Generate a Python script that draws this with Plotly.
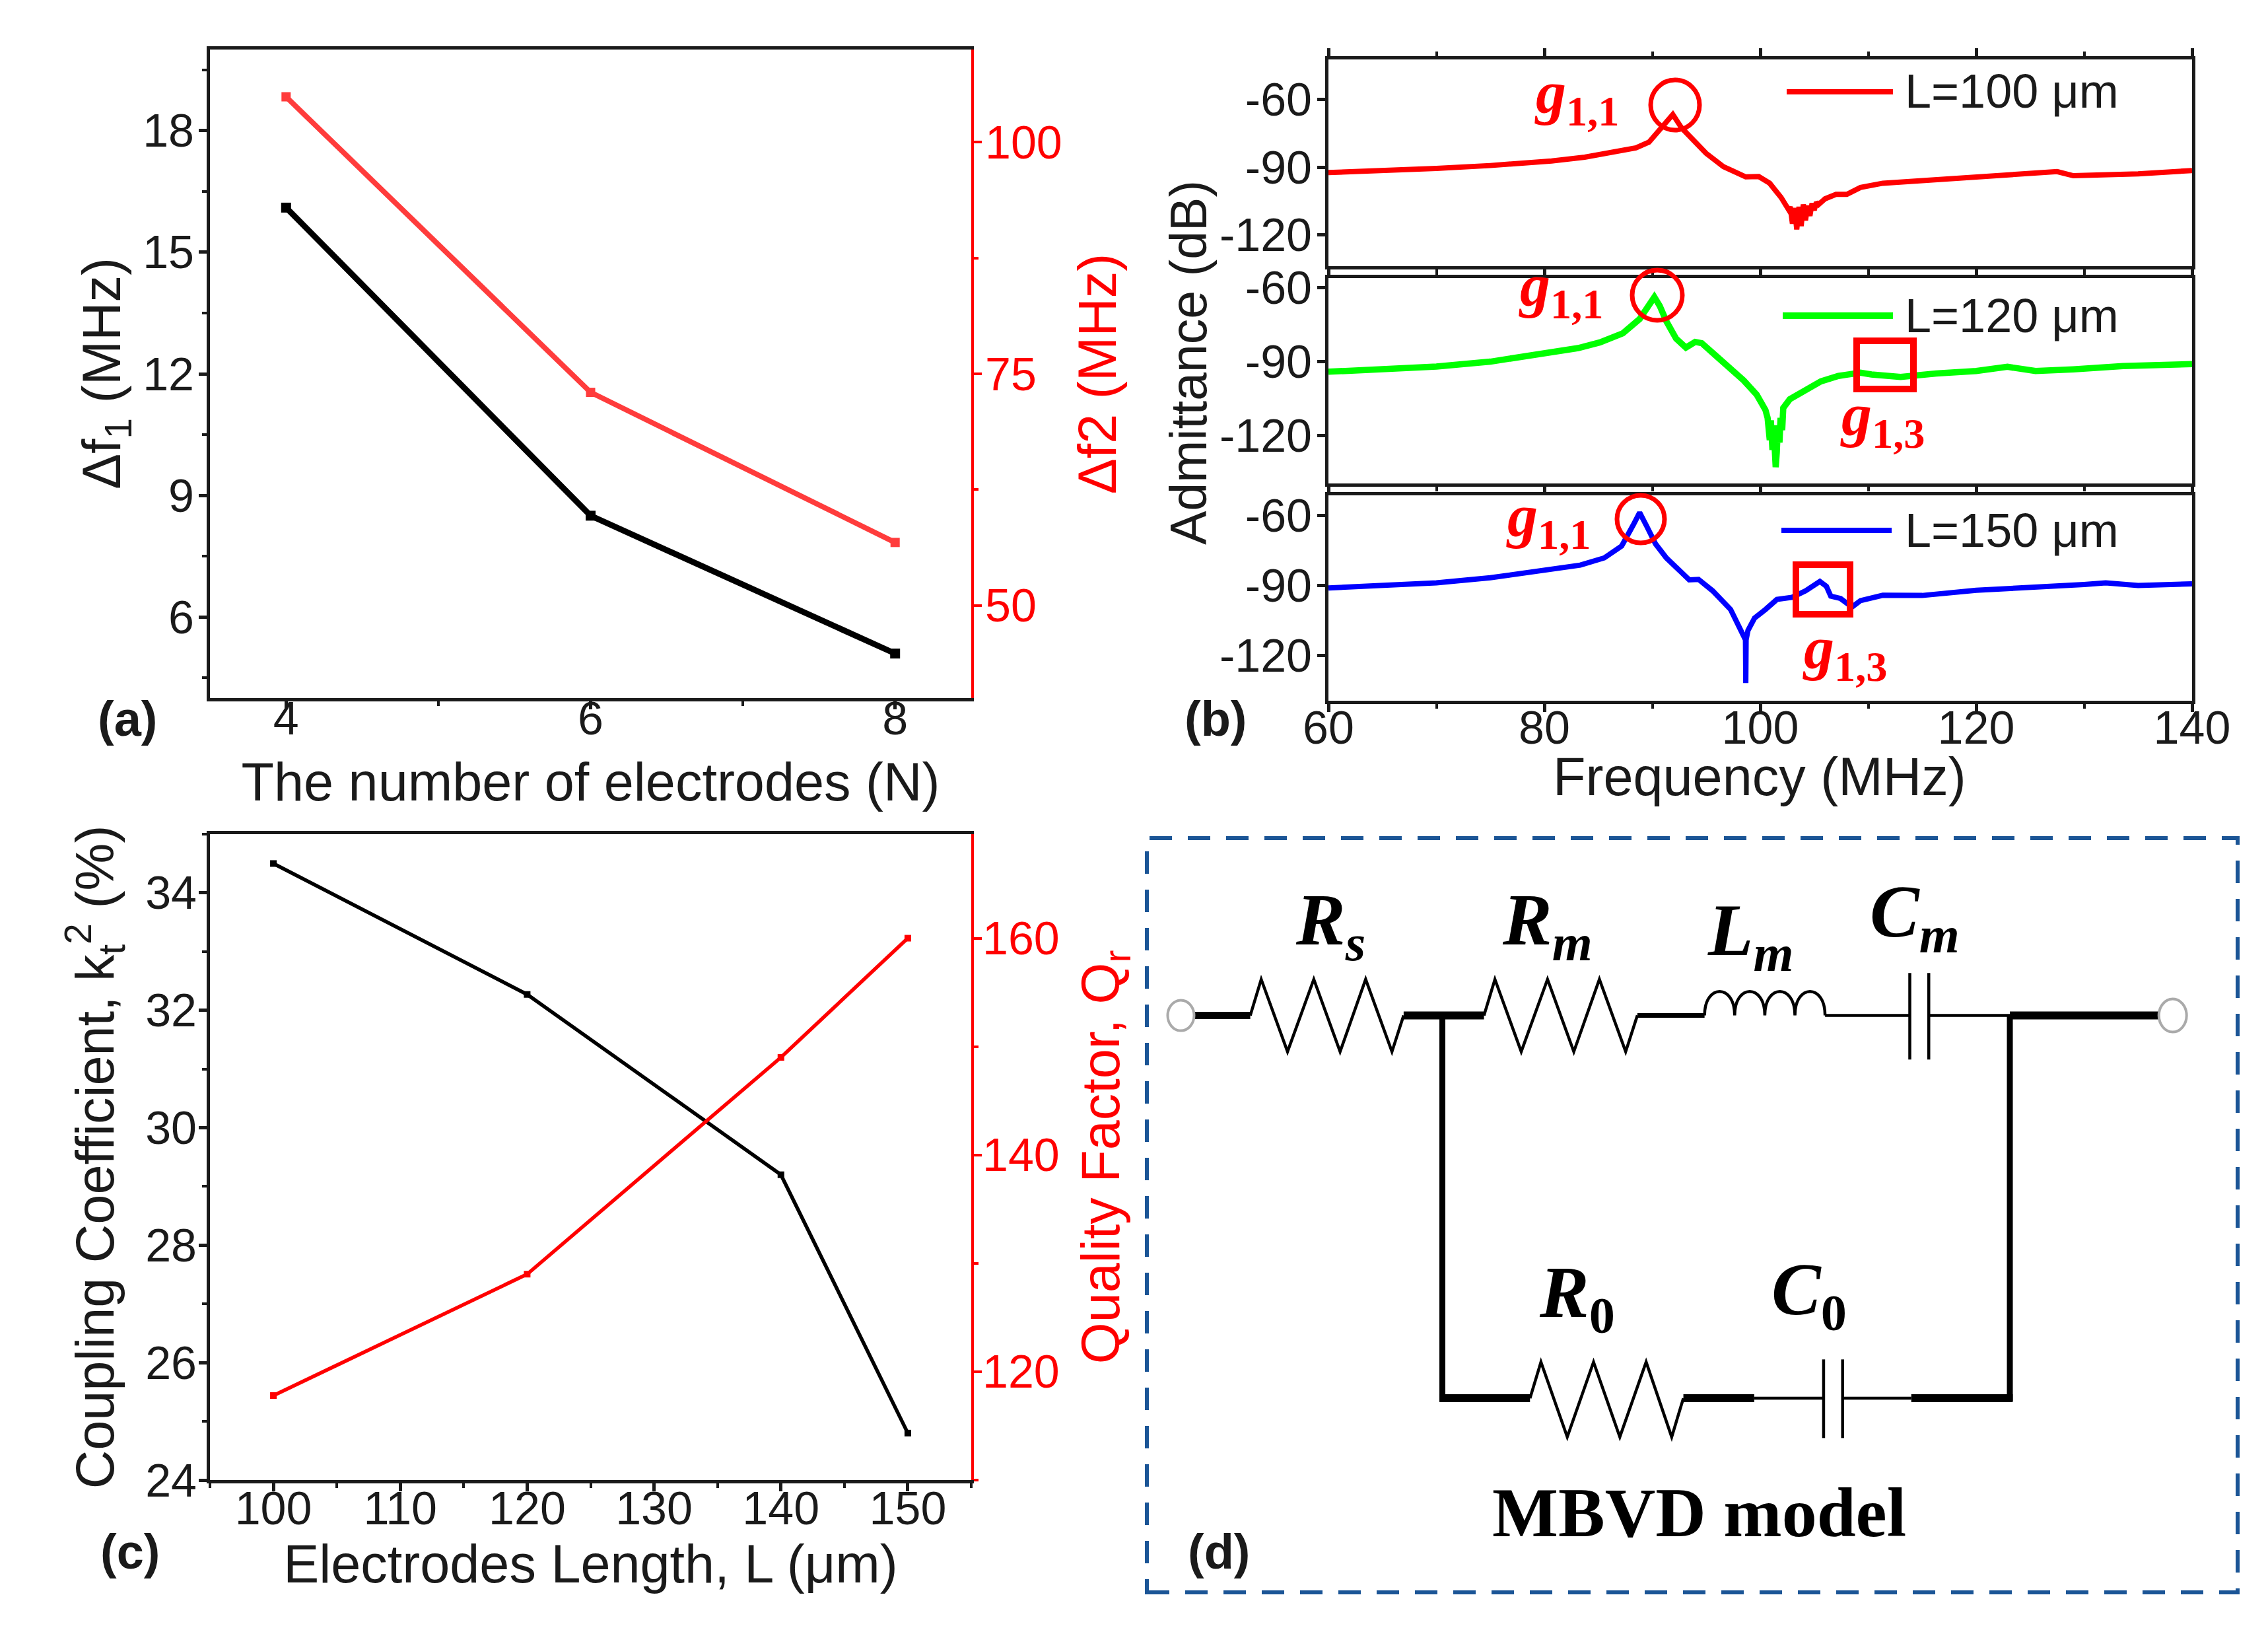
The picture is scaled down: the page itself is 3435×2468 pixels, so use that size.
import plotly.graph_objects as go

W, H = 3435, 2468

# ---------- data ----------
n_electrodes = [4, 6, 8]
delta_f1 = [16.1, 8.5, 5.1]
delta_f2 = [104.9, 73.0, 56.8]

length_um = [100, 120, 140, 150]
k2_pct = [34.5, 32.27, 29.2, 24.8]
q_factor = [117.8, 129, 149, 160]

f_100 = [60, 65, 70, 75, 80.67, 83.74, 85.76, 88.48, 89.69, 90.9, 91.9, 92.71, 93.72, 94.98, 96.59, 98.65, 99.86, 100.87,
         101.93, 102.63, 102.78, 102.98, 103.18, 103.38, 103.59, 103.79, 103.99, 104.19, 104.39, 104.6, 104.8, 105, 105.2,
         105.4, 106, 107.02, 108.02, 109.28, 111.35, 115, 120, 125, 127.5, 129, 135, 140]
y_100 = [-92.4, -91.6, -90.6, -89.3, -87.3, -85.6, -83.9, -81.5, -79, -72.7, -66.8, -72.7, -77.6, -83.9, -89.8, -94.3, -94.15, -97.1,
         -103.4, -108.8, -107.5, -115, -108, -117.5, -107.5, -116, -106.5, -113.5, -107, -111.5, -106, -109, -105.5,
         -106.5, -104, -102, -102, -99, -97.1, -96, -94.2, -93, -92, -93.8, -93, -91.5]

f_120 = [60, 65, 70, 75, 80.67, 83.13, 85.15, 87.27, 88.83, 89.69, 90.19, 90.69, 91.3, 92.21, 93.11, 93.97, 94.58, 95.84, 97.05, 98.46,
         99.67, 100.48, 100.68, 100.88, 100.98, 101.13, 101.23, 101.33, 101.43, 101.53, 101.63, 101.78, 101.88, 102.03, 102.13,
         102.74, 103.8, 105.62, 107.24, 109.28, 110.3, 113, 116.3, 120, 122.9, 125.5, 129, 133.6, 140]
y_120 = [-94, -92.9, -91.9, -89.9, -86.2, -84.4, -82.1, -78.4, -72.6, -66.4, -63.7, -67.3, -73.5, -80.6, -84.2, -81.9, -82.4, -87.3, -92.2, -97.5,
         -103.3, -109.5, -112.7, -121.7, -113.7, -125.7, -115.7, -128.7, -132.7, -126.7, -115.7, -122.7, -112.7, -117.7, -108.7,
         -105.1, -102.4, -97.9, -95.7, -94.4, -95.1, -96.1, -94.7, -93.7, -92, -93.7, -93, -91.7, -90.9]

f_150 = [60, 65, 70, 75, 80.67, 83.33, 85.55, 87.16, 88.22, 88.83, 89.49, 90.3, 91.3, 92.51, 93.42, 94.28, 95.59, 97.25, 98.06, 98.36,
         98.63, 98.66, 98.69, 98.86, 99.07, 99.47, 100.48, 101.54, 102.95, 104.2, 105.52, 106.13, 106.53, 107.44, 108.49, 109.29,
         111.35, 115, 120, 125, 130, 132, 135, 140]
y_150 = [-91.2, -90.1, -89, -86.8, -83.5, -81.4, -78.3, -73.2, -64.3, -58.9, -64.8, -72.3, -78.3, -84, -87.7, -87.5, -92.4, -100.4, -108.3, -112,
         -113.4, -131.9, -113.4, -109.4, -107.4, -104.1, -100.4, -96.1, -95.2, -92.4, -88.4, -90.5, -94.7, -95.7, -99.4, -96.6,
         -94.3, -94.4, -92.2, -91.2, -89.7, -89, -90.1, -89.4]

RED, GREEN, BLUE = "#ff0000", "#00ff00", "#0000ff"
SANS, SERIF = "Liberation Sans", "Liberation Serif"
INK = "#1a1a1a"


def px(x):
    return x / W


def py(y):
    return 1 - y / H


def axis(rng, **kw):
    base = dict(range=rng, showgrid=False, zeroline=False, showline=True, linewidth=5, linecolor=INK,
                automargin=False, ticks="outside", ticklen=12, tickwidth=5, tickcolor=INK,
                tickfont=dict(family=SANS, size=70, color=INK))
    base.update(kw)
    return base


def minor(dt, t0, color=INK):
    return dict(ticks="outside", dtick=dt, tick0=t0, ticklen=7, tickwidth=4, tickcolor=color)


def red_axis(rng, dt, t0, mdt, dom, anchor, over, title=None, lab=0, standoff=18):
    d = dict(range=rng, domain=dom, anchor=anchor, overlaying=over, side="right", showgrid=False, zeroline=False,
             automargin=False, showline=True, linewidth=4, linecolor=RED, ticks="outside", ticklen=12, tickwidth=4,
             tickcolor=RED, tickfont=dict(family=SANS, size=70, color=RED), dtick=dt, tick0=t0,
             minor=minor(mdt, t0, RED), ticklabelstandoff=lab)
    if title:
        d["title"] = dict(text=title, standoff=standoff, font=dict(family=SANS, size=81, color=RED))
    return d


def title(text, standoff):
    return dict(text=text, standoff=standoff, font=dict(family=SANS, size=81, color=INK))


fig = go.Figure()

# panel (a)
fig.add_trace(go.Scatter(x=n_electrodes, y=delta_f1, xaxis="x", yaxis="y", mode="lines+markers", name="Δf1",
                         line=dict(color="#000000", width=9), marker=dict(symbol="square", size=15, color="#000000")))
fig.add_trace(go.Scatter(x=n_electrodes, y=delta_f2, xaxis="x", yaxis="y2", mode="lines+markers", name="Δf2",
                         line=dict(color="#ff3c3c", width=8), marker=dict(symbol="square", size=14, color="#ff3c3c")))
# panel (c)
fig.add_trace(go.Scatter(x=length_um, y=k2_pct, xaxis="x2", yaxis="y3", mode="lines+markers", name="k2",
                         line=dict(color="#000000", width=5.5), marker=dict(symbol="square", size=10, color="#000000")))
fig.add_trace(go.Scatter(x=length_um, y=q_factor, xaxis="x2", yaxis="y4", mode="lines+markers", name="Qr",
                         line=dict(color=RED, width=5.5), marker=dict(symbol="square", size=10, color=RED)))
# panel (b)
fig.add_trace(go.Scatter(x=f_100, y=y_100, xaxis="x3", yaxis="y5", mode="lines", name="L=100 μm",
                         line=dict(color=RED, width=8)))
fig.add_trace(go.Scatter(x=f_120, y=y_120, xaxis="x4", yaxis="y6", mode="lines", name="L=120 μm",
                         line=dict(color=GREEN, width=9.5)))
fig.add_trace(go.Scatter(x=f_150, y=y_150, xaxis="x5", yaxis="y7", mode="lines", name="L=150 μm",
                         line=dict(color=BLUE, width=8)))

A_X, A_Y = [px(318), px(1471)], [py(1057), py(75)]
C_X, C_Y = [px(318), px(1471)], [py(2241), py(1263)]
B_X = [px(2012), px(3320)]
B1_Y, B2_Y, B3_Y = [py(403), py(90)], [py(732), py(421)], [py(1061), py(750)]

layout = dict(
    width=W, height=H, margin=dict(l=0, r=0, t=0, b=0), paper_bgcolor="white", plot_bgcolor="white",
    showlegend=False, font=dict(family=SANS, color=INK),
    xaxis=axis([3.5, 8.5], domain=A_X, anchor="y", mirror=True, dtick=2, tick0=4, minor=minor(1, 4),
               ticklabelstandoff=-46, title=title("The number of electrodes (N)", 31)),
    yaxis=axis([4, 20], domain=A_Y, anchor="x", dtick=3, tick0=6, minor=minor(1.5, 6), ticklabelstandoff=-7),
    yaxis2=red_axis([40, 110], 25, 50, 12.5, A_Y, "x", "y", "Δf2 (MHz)", -9, 27),
    xaxis2=axis([95, 155], domain=C_X, anchor="y3", mirror=True, dtick=10, tick0=100, minor=minor(5, 100),
                ticklabelstandoff=-34, title=title("Electrodes Length, L (μm)", 14)),
    yaxis3=axis([24, 35], domain=C_Y, anchor="x2", dtick=2, tick0=24, minor=minor(1, 24), ticklabelstandoff=-11,
                title=title("Coupling Coefficient, k<sub>t</sub><sup>2</sup> (%)", 22)),
    yaxis4=red_axis([110, 169.6], 20, 120, 10, C_Y, "x2", "y3", "Quality Factor, Q<sub>r</sub>", -13, 36),
    xaxis3=axis([60, 140], domain=B_X, anchor="y5", mirror="allticks", dtick=20, tick0=60, minor=minor(10, 60),
                showticklabels=False),
    xaxis4=axis([60, 140], domain=B_X, anchor="y6", mirror="allticks", dtick=20, tick0=60, minor=minor(10, 60),
                showticklabels=False),
    xaxis5=axis([60, 140], domain=B_X, anchor="y7", mirror=True, dtick=20, tick0=60, minor=minor(10, 60),
                ticklabelstandoff=-36),
    yaxis5=axis([-133.7, -42.5], domain=B1_Y, anchor="x3", mirror=True, tickvals=[-60, -90, -120],
                ticktext=["-60", "-90", "-120"], ticklabelstandoff=-6),
    yaxis6=axis([-139.3, -56], domain=B2_Y, anchor="x4", mirror=True, tickvals=[-60, -90, -120],
                ticktext=["-60", "-90", "-120"], ticklabelstandoff=-6),
    yaxis7=axis([-139.5, -51.5], domain=B3_Y, anchor="x5", mirror=True, tickvals=[-60, -90, -120],
                ticktext=["-60", "-90", "-120"], ticklabelstandoff=-6),
)

shapes, annos = [], []


def line(x0, y0, x1, y1, w, color="black", dash=None):
    ln = dict(color=color, width=w)
    if dash:
        ln["dash"] = dash
    shapes.append(dict(type="line", xref="paper", yref="paper", x0=px(x0), y0=py(y0), x1=px(x1), y1=py(y1), line=ln))


def ellipse(cx, cy, rx, ry, w, color, fill="rgba(0,0,0,0)"):
    shapes.append(dict(type="circle", xref="paper", yref="paper", x0=px(cx - rx), x1=px(cx + rx), y0=py(cy + ry),
                       y1=py(cy - ry), line=dict(color=color, width=w), fillcolor=fill))


def rect(x0, y0, x1, y1, w, color):
    shapes.append(dict(type="rect", xref="paper", yref="paper", x0=px(x0), x1=px(x1), y0=py(y1), y1=py(y0),
                       line=dict(color=color, width=w)))


def text(x, y, s, size, color=INK, family=SANS, angle=0):
    annos.append(dict(xref="paper", yref="paper", x=px(x), y=py(y), text=s, showarrow=False, xanchor="center",
                      yanchor="middle", textangle=angle, font=dict(size=size, color=color, family=family)))


# overlays on panel (b)
ellipse(2537, 159, 37, 38, 7, RED)
ellipse(2510, 447, 38, 38, 7, RED)
ellipse(2485, 786, 36, 36, 7, RED)
rect(2812, 516, 2898, 589, 10, RED)
rect(2720, 855, 2802, 930, 10, RED)
line(2706, 139, 2867, 139, 8, RED)
line(2700, 478, 2867, 478, 10, GREEN)
line(2698, 803, 2865, 803, 8, BLUE)
for yy, s in [(138, "L=100 μm"), (478, "L=120 μm"), (803, "L=150 μm")]:
    annos.append(dict(xref="paper", yref="paper", x=px(2883), y=py(yy), text=s, showarrow=False, xanchor="left",
                      yanchor="middle", font=dict(size=72, color=INK, family=SANS)))
for x, y, s in [(2388, 146, "1,1"), (2364, 438, "1,1"), (2345, 787, "1,1"), (2851, 635, "1,3"), (2794, 987, "1,3")]:
    text(x, y, f"<b><i>g</i><sub>{s}</sub></b>", 92, RED, SERIF)

text(160, 566, "Δf<sub>1</sub> (MHz)", 81, INK, SANS, -90)
text(1800, 549, "Admittance (dB)", 77, INK, SANS, -90)
text(2665, 1176, "Frequency (MHz)", 81, INK, SANS)

text(193, 1089, "<b>(a)</b>", 74)
text(1842, 1089, "<b>(b)</b>", 74)
text(197, 2349, "<b>(c)</b>", 74)
text(1846, 2349, "<b>(d)</b>", 74)

# panel (d): equivalent circuit
DX, DY = 0.904, 1.277


def cx(z):
    return 1700 + z / DX


def cy(z):
    return 1240 + z / DY


def wire(x0, y0, x1, y1, w):
    line(cx(x0), cy(y0), cx(x1), cy(y1), w, "black")


def poly(points, w):
    d = "M " + " L ".join(f"{px(cx(a)):.5f},{py(cy(b)):.5f}" for a, b in points)
    shapes.append(dict(type="path", xref="paper", yref="paper", path=d, line=dict(color="black", width=w)))


def coil(x0, x1, y, top, n, w):
    step = (x1 - x0) / n
    d = f"M {px(cx(x0)):.5f},{py(cy(y)):.5f}"
    for i in range(n):
        a, b = x0 + i * step, x0 + (i + 1) * step
        d += (f" C {px(cx(a)):.5f},{py(cy(top)):.5f} {px(cx(b)):.5f},{py(cy(top)):.5f}"
              f" {px(cx(b)):.5f},{py(cy(y)):.5f}")
    shapes.append(dict(type="path", xref="paper", yref="paper", path=d, line=dict(color="black", width=w)))


shapes.append(dict(type="rect", xref="paper", yref="paper", x0=px(1737), x1=px(3389), y0=py(2411), y1=py(1269),
                   line=dict(color="#1b5596", width=6, dash="34px,24px")))

wire(98, 380, 175, 380, 11)
poly([(175, 380), (190, 310), (226, 450), (262, 310), (298, 450), (333, 310), (369, 450), (385, 380)], 4.5)
wire(385, 380, 495, 380, 12)
poly([(495, 380), (510, 310), (546, 450), (582, 310), (618, 450), (653, 310), (689, 450), (705, 380)], 4.5)
wire(705, 380, 797, 380, 7)
coil(797, 962, 380, 318, 4, 4.5)
wire(962, 380, 1078, 380, 4.5)
wire(1078, 298, 1078, 465, 4.5)
wire(1104, 298, 1104, 465, 4.5)
wire(1104, 380, 1215, 380, 4.5)
wire(1215, 380, 1420, 380, 12)
wire(438, 380, 438, 1125, 9)
wire(1215, 380, 1215, 1125, 9)
wire(434, 1120, 558, 1120, 12)
poly([(558, 1120), (573, 1050), (609, 1195), (645, 1050), (681, 1195), (717, 1050), (752, 1195), (768, 1120)], 4.5)
wire(768, 1120, 865, 1120, 12)
wire(865, 1120, 960, 1120, 4.5)
wire(960, 1045, 960, 1197, 4.5)
wire(986, 1045, 986, 1197, 4.5)
wire(986, 1120, 1080, 1120, 4.5)
wire(1080, 1120, 1219, 1120, 12)
ellipse(cx(80), cy(380), 20, 23, 4, "#aaaaaa", "white")
ellipse(cx(1438), cy(380), 21, 25, 4, "#aaaaaa", "white")

for zx, zy, s in [(285, 205, "<i>R</i><sub><i>s</i></sub>"), (582, 205, "<i>R</i><sub><i>m</i></sub>"),
                  (860, 225, "<i>L</i><sub><i>m</i></sub>"), (1085, 190, "<i>C</i><sub><i>m</i></sub>"),
                  (622, 925, "<i>R</i><sub>0</sub>"), (940, 920, "<i>C</i><sub>0</sub>")]:
    text(cx(zx), cy(zy), f"<b>{s}</b>", 112, "black", SERIF)
text(cx(790), cy(1342), "<b>MBVD model</b>", 106, "black", SERIF)

layout["shapes"] = shapes
layout["annotations"] = annos
fig.update_layout(**layout)
fig.write_html("out.html", config=dict(displayModeBar=False), post_script="document.body.style.margin='0';")
